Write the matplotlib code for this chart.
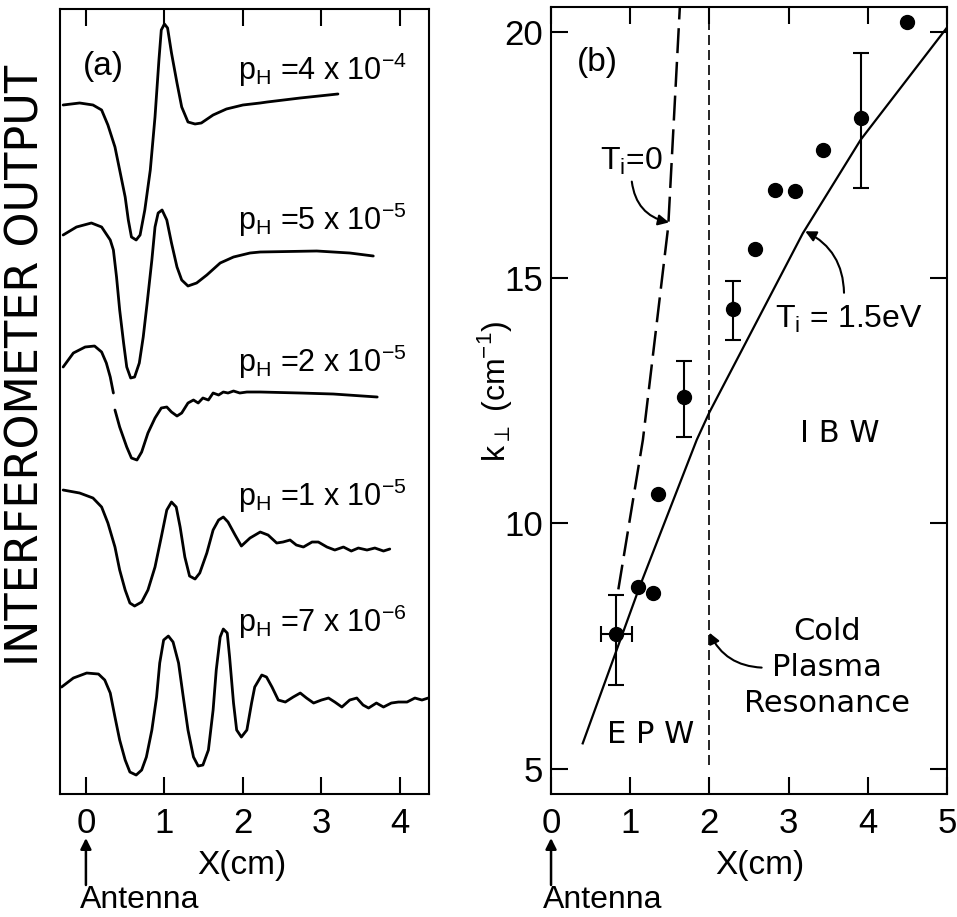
import matplotlib
matplotlib.use("Agg")
import matplotlib.pyplot as plt
import numpy as np
from matplotlib import transforms

plt.rcParams.update({
    "font.family": ["Liberation Sans", "DejaVu Sans"],
    "font.size": 24,
    "axes.linewidth": 1.5,
    "xtick.major.width": 1.5,
    "ytick.major.width": 1.5,
})
WIDE = "DejaVu Sans"  # for the letter-spaced labels of the original lettering

# ---- panel (a): interferometer traces (x in cm, signal in arbitrary units) ----
trace_labels = ["4", "5", "2", "1", "7"]
trace_exps = ["-4", "-5", "-5", "-5", "-6"]

x_4e4 = [-0.29, -0.08, 0.09, 0.20, 0.28, 0.37, 0.43, 0.50, 0.54, 0.58, 0.64, 0.69, 0.75,
         0.82, 0.88, 0.93, 0.96, 1.00, 1.04, 1.09, 1.16, 1.22, 1.30, 1.39, 1.47, 1.62,
         1.79, 2.00, 2.22, 2.31, 2.73, 3.21]
y_4e4 = [68.9, 69.1, 68.9, 68.4, 66.9, 64.7, 62.4, 59.7, 57.4, 55.7, 55.4, 55.9, 58.4,
         62.4, 67.7, 73.4, 76.4, 77.0, 76.6, 74.1, 71.1, 68.7, 67.2, 67.0, 67.1, 67.9,
         68.5, 68.9, 69.1, 69.2, 69.6, 70.0]

x_5e5 = [-0.29, -0.12, 0.07, 0.20, 0.31, 0.35, 0.39, 0.43, 0.48, 0.52, 0.57, 0.62, 0.68,
         0.73, 0.78, 0.84, 0.88, 0.92, 0.97, 1.03, 1.09, 1.16, 1.22, 1.30, 1.41, 1.54,
         1.71, 1.88, 2.09, 2.22, 2.94, 3.36, 3.66]
y_5e5 = [55.9, 56.7, 57.1, 56.7, 55.4, 54.4, 51.7, 48.4, 45.1, 42.7, 41.6, 41.7, 43.1,
         45.7, 49.1, 53.4, 56.7, 58.1, 58.4, 57.4, 55.1, 52.7, 51.4, 50.8, 51.1, 51.9,
         53.1, 53.7, 54.1, 54.2, 54.3, 54.1, 53.8]

x_2e5 = [-0.29, -0.16, -0.01, 0.11, 0.20, 0.26, 0.31, 0.35, np.nan, 0.37, 0.43, 0.52,
         0.58, 0.65, 0.71, 0.79, 0.88, 0.96, 1.03, 1.09, 1.16, 1.22, 1.30, 1.37, 1.43,
         1.49, 1.56, 1.62, 1.69, 1.75, 1.81, 1.88, 1.96, 2.05, 2.22, 2.73, 3.15, 3.71]
y_2e5 = [42.7, 44.1, 44.7, 44.8, 44.2, 43.1, 41.7, 40.1, np.nan, 38.4, 36.7, 34.7,
         33.6, 33.4, 34.2, 36.1, 37.6, 38.6, 38.7, 38.2, 37.8, 38.1, 39.1, 39.4, 39.1,
         39.6, 39.4, 40.1, 39.9, 40.2, 40.1, 40.3, 40.1, 40.2, 40.2, 40.1, 40.0, 39.7]

x_1e5 = [-0.29, -0.08, 0.09, 0.20, 0.28, 0.37, 0.43, 0.50, 0.56, 0.62, 0.71, 0.79, 0.88,
         0.96, 1.03, 1.09, 1.15, 1.20, 1.26, 1.32, 1.39, 1.45, 1.54, 1.62, 1.69, 1.75,
         1.81, 1.90, 1.98, 2.09, 2.22, 2.32, 2.43, 2.51, 2.60, 2.68, 2.77, 2.88, 2.96,
         3.07, 3.17, 3.28, 3.38, 3.47, 3.58, 3.68, 3.79, 3.87]
y_1e5 = [30.4, 30.1, 29.6, 28.7, 27.1, 24.7, 22.4, 20.4, 19.1, 18.8, 19.2, 20.4, 22.7,
         25.7, 28.4, 29.2, 28.7, 26.7, 23.7, 21.8, 21.5, 22.1, 24.1, 26.4, 27.4, 27.7,
         27.2, 25.9, 24.8, 25.6, 26.2, 25.9, 25.1, 25.2, 25.4, 24.9, 24.7, 25.2, 25.2,
         24.7, 24.4, 24.7, 24.3, 24.6, 24.4, 24.6, 24.3, 24.5]

x_7e6 = [-0.31, -0.16, 0.01, 0.16, 0.24, 0.31, 0.37, 0.43, 0.50, 0.56, 0.64, 0.71, 0.77,
         0.84, 0.90, 0.94, 0.99, 1.05, 1.11, 1.18, 1.24, 1.30, 1.37, 1.43, 1.49, 1.56,
         1.62, 1.66, 1.71, 1.75, 1.80, 1.83, 1.88, 1.92, 1.98, 2.05, 2.11, 2.15, 2.24,
         2.30, 2.37, 2.45, 2.54, 2.64, 2.73, 2.81, 2.90, 3.00, 3.09, 3.17, 3.26, 3.36,
         3.45, 3.53, 3.60, 3.70, 3.79, 3.89, 3.98, 4.09, 4.19, 4.28, 4.36]
y_7e6 = [10.7, 11.6, 12.1, 12.0, 11.4, 10.1, 7.7, 5.4, 3.4, 2.2, 1.9, 2.4, 3.7,
         6.4, 9.7, 13.1, 15.4, 15.8, 15.2, 13.1, 9.7, 6.4, 3.7, 2.8, 2.9, 4.4,
         8.4, 12.4, 15.7, 16.5, 16.1, 13.7, 9.1, 6.4, 5.7, 6.4, 9.1, 10.7, 11.9,
         11.7, 10.7, 9.4, 9.2, 9.7, 10.1, 9.6, 9.1, 9.4, 9.6, 9.2, 8.7, 9.4,
         9.6, 8.9, 8.6, 9.1, 8.7, 9.1, 9.2, 9.2, 9.6, 9.4, 9.6]

# ---- panel (b): k_perp versus X ----
meas_x = [4.50, 3.91, 3.43, 2.83, 3.08, 2.58, 2.30, 1.68, 1.35, 1.10, 1.29, 0.82]
meas_k = [20.2, 18.25, 17.6, 16.77, 16.75, 15.57, 14.37, 12.58, 10.6, 8.70, 8.58, 7.76]

err_x = [3.91, 2.30, 1.68, 0.82]
err_k = [18.25, 14.37, 12.58, 7.76]
err_k_lo = [16.83, 13.72, 11.75, 6.71]
err_k_hi = [19.57, 14.92, 13.31, 8.54]
err_x_lo = [3.91, 2.30, 1.68, 0.63]
err_x_hi = [3.91, 2.30, 1.68, 1.02]

warm_x = [0.40, 1.12, 1.84, 2.00, 3.18, 3.91, 4.99]
warm_k = [5.53, 8.72, 11.70, 12.26, 15.90, 17.80, 20.06]

cold_x = [0.85, 1.16, 1.48, 1.63]
cold_k = [8.66, 11.70, 16.04, 20.60]

resonance_x = 2.0

fig = plt.figure(figsize=(9.57, 9.17), dpi=100)
ax_a = fig.add_axes([0.0627, 0.1341, 0.3856, 0.8561])
ax_b = fig.add_axes([0.5758, 0.1341, 0.4137, 0.8583])

# ---------------- panel (a) ----------------
traces = [(x_4e4, y_4e4), (x_5e5, y_5e5), (x_2e5, y_2e5), (x_1e5, y_1e5), (x_7e6, y_7e6)]
for xs, ys in traces:
    ax_a.plot(xs, ys, color="k", lw=2.0, solid_joinstyle="round", solid_capstyle="round")

label_y = [72.4, 57.4, 43.2, 29.8, 17.2]
for mant, ex, ly in zip(trace_labels, trace_exps, label_y):
    ax_a.text(1.94, ly, r"$\mathregular{p_H}$ =" + mant + r" x 10$^{\mathregular{" + ex + "}}$",
              ha="left", va="center", fontsize=22)

ax_a.text(0.22, 72.7, "(a)", ha="center", va="center", fontsize=24)
ax_a.set_xlim(-0.33, 4.37)
ax_a.set_ylim(0, 78.5)
ax_a.set_xticks(range(5))
ax_a.set_yticks([])
ax_a.tick_params(axis="x", direction="in", top=True, length=12, pad=9, labelsize=25)
ax_a.set_ylabel("INTERFEROMETER OUTPUT", fontsize=32, family=WIDE)
ax_a.yaxis.set_label_coords(-0.034, 0.546)

# ---------------- panel (b) ----------------
ax_b.plot(warm_x, warm_k, color="k", lw=1.6)
ax_b.plot(cold_x, cold_k, color="k", lw=1.8, dashes=(10, 3.5))
ax_b.plot([resonance_x, resonance_x], [5.1, 20.5], color="k", lw=1.2, dashes=(6, 3))

ax_b.plot(meas_x, meas_k, "o", color="k", markersize=10)
ax_b.errorbar(err_x, err_k,
              yerr=[np.subtract(err_k, err_k_lo), np.subtract(err_k_hi, err_k)],
              xerr=[np.subtract(err_x, err_x_lo), np.subtract(err_x_hi, err_x)],
              fmt="none", ecolor="k", elinewidth=1.5, capsize=6, capthick=1.5)

ax_b.set_xlim(0, 5)
ax_b.set_ylim(4.5, 20.5)
ax_b.set_xticks(range(6))
ax_b.set_yticks([5, 10, 15, 20])
ax_b.tick_params(axis="both", direction="in", top=True, right=True, length=12,
                 labelsize=25)
ax_b.tick_params(axis="x", pad=9)
ax_b.tick_params(axis="y", pad=6)
ax_b.set_ylabel(r"k$_\perp$ (cm$^{\mathregular{-1}}$)", fontsize=23)
ax_b.yaxis.set_label_coords(-0.093, 0.512)

ax_b.text(0.58, 19.37, "(b)", ha="center", va="center", fontsize=24)
ax_b.text(0.62, 17.36, r"T$_{\mathregular{i}}$=0", ha="left", va="center", fontsize=23)
ax_b.text(2.83, 14.15, r"T$_{\mathregular{i}}$ = 1.5eV", ha="left", va="center", fontsize=23)
ax_b.text(3.65, 11.83, "I B W", ha="center", va="center", fontsize=22, family=WIDE)
ax_b.text(1.26, 5.71, "E P W", ha="center", va="center", fontsize=22, family=WIDE)
ax_b.text(3.48, 7.07, "Cold\nPlasma\nResonance", ha="center", va="center",
          fontsize=22, linespacing=1.3, family=WIDE)

arrow_kw = dict(arrowstyle="-|>", color="k", lw=1.5, shrinkA=0, shrinkB=0,
                mutation_scale=16)
ax_b.annotate("", xy=(1.49, 16.12), xytext=(1.02, 16.95),
              arrowprops=dict(connectionstyle="arc3,rad=0.35", **arrow_kw))
ax_b.annotate("", xy=(3.21, 15.94), xytext=(3.70, 14.69),
              arrowprops=dict(connectionstyle="arc3,rad=0.3", **arrow_kw))
ax_b.annotate("", xy=(2.0, 7.78), xytext=(2.66, 7.07),
              arrowprops=dict(connectionstyle="arc3,rad=-0.3", **arrow_kw))

# ---------------- shared bottom annotations ----------------
for ax, xlab_x, ant_x in [(ax_a, 1.99, -0.08), (ax_b, 2.64, -0.10)]:
    trans = transforms.blended_transform_factory(ax.transData, fig.transFigure)
    ax.text(xlab_x, 0.0567, "X(cm)", transform=trans, ha="center", va="center",
            fontsize=24)
    ax.annotate("", xy=(0, 0.0861), xytext=(0, 0.0349), xycoords=trans,
                textcoords=trans, annotation_clip=False,
                arrowprops=dict(arrowstyle="-|>", color="k", lw=1.8,
                                shrinkA=0, shrinkB=0, mutation_scale=16))
    ax.text(ant_x, 0.0185, "Antenna", transform=trans, ha="left", va="center",
            fontsize=23)

fig.savefig("out.png", dpi=100)
